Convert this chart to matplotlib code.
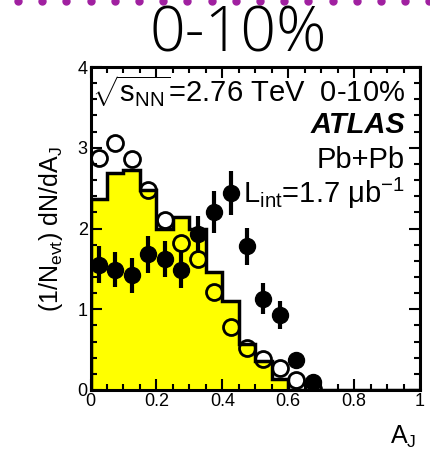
import numpy as np
import matplotlib
matplotlib.use("Agg")
import matplotlib.pyplot as plt
from matplotlib.ticker import MultipleLocator

plt.rcParams["font.family"] = ["Liberation Sans", "DejaVu Sans"]
plt.rcParams["mathtext.fontset"] = "custom"
plt.rcParams["mathtext.rm"] = "Liberation Sans"
plt.rcParams["mathtext.it"] = "Liberation Sans:italic"
plt.rcParams["mathtext.bf"] = "Liberation Sans:bold"

# ---- data ----
edges = np.round(np.arange(0, 1.0001, 0.05), 3)
mc_hist = [2.37, 2.69, 2.72, 2.48, 2.00, 2.14, 1.99, 1.46, 1.10, 0.57,
           0.36, 0.14, 0, 0, 0, 0, 0, 0, 0, 0]
centers = [0.025, 0.075, 0.125, 0.175, 0.225, 0.275, 0.325,
           0.375, 0.425, 0.475, 0.525, 0.575, 0.625, 0.675]
pp = [2.87, 3.06, 2.86, 2.48, 2.10, 1.82, 1.62, 1.21, 0.78, 0.52, 0.39, 0.27, 0.12, 0.01]
pbpb = [1.55, 1.49, 1.42, 1.68, 1.62, 1.49, 1.93, 2.20, 2.44, 1.78, 1.13, 0.93, 0.37, 0.10]
pbpb_err = [0.23, 0.22, 0.22, 0.23, 0.22, 0.23, 0.23, 0.26, 0.27, 0.23, 0.19, 0.17, 0.04, 0.03]
xticks = [0, 0.2, 0.4, 0.6, 0.8, 1]
xticklabels = ["0", "0.2", "0.4", "0.6", "0.8", "1"]
yticks = [0, 1, 2, 3, 4]

W, H = 430, 449
fig = plt.figure(figsize=(W/100, H/100), dpi=100)
ax = fig.add_axes([90.5/W, 1-390/H, (420-90.5)/W, (390-67)/H])

ax.stairs(mc_hist, edges, fill=True, color="#FFFF00", zorder=1)
ax.stairs(mc_hist, edges, color="black", lw=2.5, zorder=2)
ax.plot(centers, pp, "o", ms=11.5, mfc="none", mec="black", mew=2, zorder=3)
ax.errorbar(centers, pbpb, yerr=pbpb_err, fmt="o", ms=11.5, color="black",
            elinewidth=3, capsize=0, zorder=4)

ax.set_xlim(0, 1)
ax.set_ylim(0, 4)
ax.set_xticks(xticks, xticklabels)
ax.set_yticks(yticks)
ax.xaxis.set_minor_locator(MultipleLocator(0.05))
ax.yaxis.set_minor_locator(MultipleLocator(0.2))
ax.tick_params(which="both", direction="in", top=True, right=True, width=1.5,
               labelsize=13, pad=2)
ax.tick_params(which="major", length=8)
ax.tick_params(which="minor", length=4.5)
for s in ax.spines.values():
    s.set_linewidth(2.2)

ax.set_ylabel("(1/N$_{\\mathrm{evt}}$) dN/dA$_{\\mathrm{J}}$", fontsize=18, labelpad=9)
fig.text(390/W, 1-444/H, "A$_{\\mathrm{J}}$", fontsize=18, ha="left", va="baseline")

tx = 405/W
fig.text(tx, 1-102/H, "$\\sqrt{\\mathrm{s}_{\\mathrm{NN}}}$=2.76 TeV  0-10%", fontsize=21,
         ha="right", va="baseline")
fig.text(tx, 1-133/H, "ATLAS", fontsize=21, fontweight="bold", fontstyle="italic",
         ha="right", va="baseline")
fig.text(tx, 1-168/H, "Pb+Pb", fontsize=21, ha="right", va="baseline")
fig.text(tx, 1-203/H, "L$_{\\mathrm{int}}$=1.7 μb$^{-1}$", fontsize=21,
         ha="right", va="baseline")

fig.text(238/W, 1-35/H, "0-10%", fontsize=45, family=["Open Sans", "DejaVu Sans"],
         fontweight="light", ha="center", va="center")

# purple dotted border along the top
dots_x = np.arange(18, W, 24.2) / W
fig.add_artist(plt.Line2D(dots_x, np.full(len(dots_x), 1 - 0.5/H), ls="none",
                          marker="o", ms=5, color="#A020A0",
                          transform=fig.transFigure))

fig.savefig("out.png", dpi=100)
